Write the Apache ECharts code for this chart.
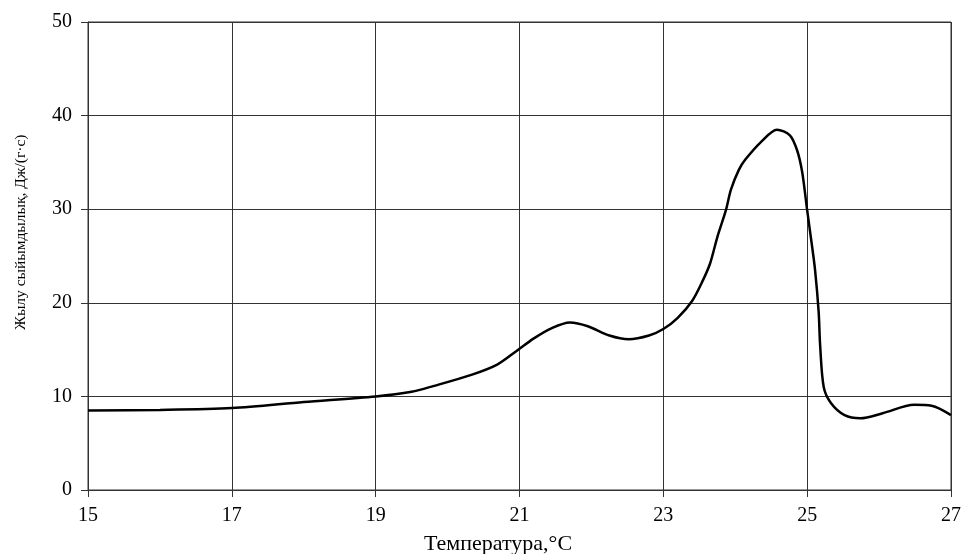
<!DOCTYPE html>
<html>
<head>
<meta charset="utf-8">
<script src="https://cdn.jsdelivr.net/npm/echarts@6/dist/echarts.min.js"></script>
<style>
  html, body { margin: 0; padding: 0; background: #fff; }
  #chart { width: 964px; height: 554px; }
</style>
</head>
<body>
<div id="chart"></div>
<script>
// Temperature, °C
const temperature = [
  15.0, 16.0, 17.0, 18.0, 19.0, 19.5, 19.8, 20.33, 20.69, 20.95,
  21.2, 21.45, 21.7, 21.95, 22.25, 22.52, 22.8, 23.0, 23.2, 23.4,
  23.55, 23.65, 23.75, 23.87, 23.94, 24.05, 24.14, 24.36, 24.58, 24.76,
  24.86, 24.93, 25.0, 25.06, 25.11, 25.16, 25.18, 25.23, 25.33, 25.52,
  25.74, 26.05, 26.49, 26.73, 27.0
];
// Heat capacity, J/(g·K)
const heatCapacity = [
  8.5, 8.55, 8.75, 9.4, 10.0, 10.5, 11.1, 12.3, 13.4, 14.8,
  16.2, 17.3, 17.9, 17.5, 16.5, 16.1, 16.5, 17.2, 18.4, 20.2,
  22.4, 24.2, 27.0, 29.9, 32.1, 34.2, 35.3, 37.2, 38.5, 37.9,
  36.3, 34.0, 29.9, 26.5, 23.5, 19.0, 15.5, 11.0, 9.3, 8.0,
  7.66, 8.2, 9.1, 9.0, 8.0
];
const xTicks = [15, 17, 19, 21, 23, 25, 27];
const yTicks = [0, 10, 20, 30, 40, 50];

const xTitle = 'Температура,°С';
const yTitle = 'Жылу сыйымдылық, Дж/(г·с)';

const font = '"Liberation Serif", "DejaVu Serif", serif';
const gridColor = '#333';

const chart = echarts.init(document.getElementById('chart'), null, { renderer: 'canvas' });
chart.setOption({
  animation: false,
  backgroundColor: '#fff',
  grid: { left: 88, right: 12, top: 22, bottom: 64, show: true, borderColor: gridColor, borderWidth: 1 },
  xAxis: {
    type: 'value',
    min: xTicks[0],
    max: xTicks[xTicks.length - 1],
    interval: 2,
    axisLine: { show: true, onZero: false, lineStyle: { color: gridColor, width: 1 } },
    axisTick: { show: true, length: 7, lineStyle: { color: gridColor } },
    axisLabel: { color: '#000', fontFamily: font, fontSize: 20, margin: 16 },
    splitLine: { show: true, lineStyle: { color: gridColor, width: 1 } }
  },
  yAxis: {
    type: 'value',
    min: yTicks[0],
    max: yTicks[yTicks.length - 1],
    interval: 10,
    axisLine: { show: true, onZero: false, lineStyle: { color: gridColor, width: 1 } },
    axisTick: { show: true, length: 7, lineStyle: { color: gridColor } },
    axisLabel: { color: '#000', fontFamily: font, fontSize: 20, margin: 16 },
    splitLine: { show: true, lineStyle: { color: gridColor, width: 1 } }
  },
  graphic: [
    {
      type: 'text', left: 424, top: 533,
      style: { text: xTitle, fill: '#000', font: '22px ' + font }
    },
    {
      type: 'text', x: 13, y: 330, rotation: Math.PI / 2,
      style: { text: yTitle, fill: '#000', font: '15.5px ' + font, textAlign: 'left', textVerticalAlign: 'top' }
    }
  ],
  series: [{
    type: 'line',
    data: temperature.map((t, i) => [t, heatCapacity[i]]),
    showSymbol: false,
    smooth: 0.3,
    lineStyle: { color: '#000', width: 2.5 },
    clip: true
  }]
});
</script>
</body>
</html>
